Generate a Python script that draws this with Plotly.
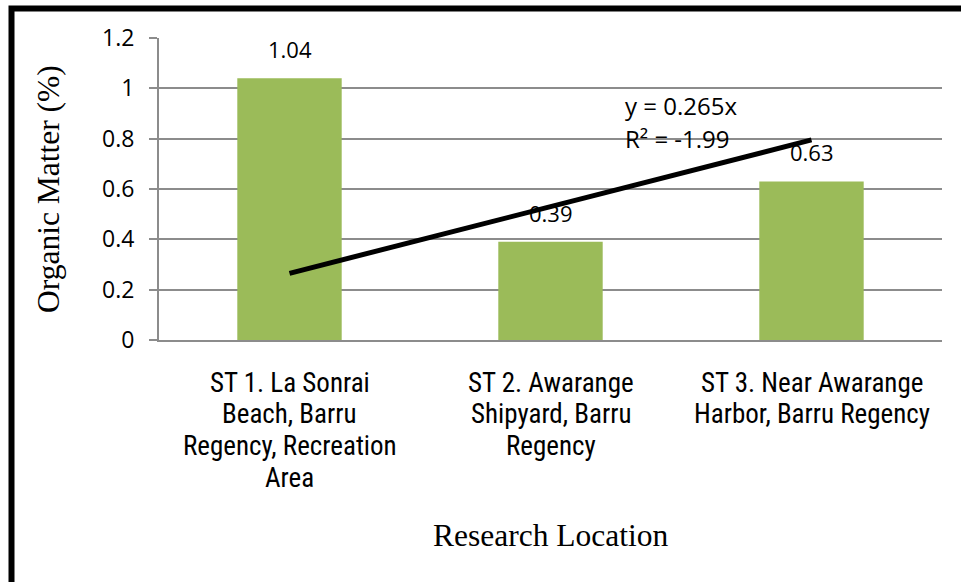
import plotly.graph_objects as go

categories = ["ST 1", "ST 2", "ST 3"]
category_label_lines = [
    ["ST 1. La Sonrai", "Beach, Barru", "Regency, Recreation", "Area"],
    ["ST 2. Awarange", "Shipyard, Barru", "Regency"],
    ["ST 3. Near Awarange", "Harbor, Barru Regency"],
]
organic_matter = [1.04, 0.39, 0.63]
value_labels = ["1.04", "0.39", "0.63"]
trend_x = [categories[0], categories[2]]
trend_y = [0.265, 0.795]
equation_lines = ["y = 0.265x", "R² = -1.99"]
y_ticks = [0, 0.2, 0.4, 0.6, 0.8, 1, 1.2]
y_tick_text = ["0", "0.2", "0.4", "0.6", "0.8", "1", "1.2"]

CAT_FONT = dict(family="Noto Sans Condensed, Roboto Condensed, Roboto, sans-serif",
                size=27, color="black")
SANS = "Open Sans, Noto Sans, sans-serif"
SERIF = "Liberation Serif, Times New Roman, serif"

fig = go.Figure()
fig.add_trace(go.Bar(
    x=categories, y=organic_matter,
    marker=dict(color="#9BBB59", line=dict(width=0)),
    width=0.4, showlegend=False, hoverinfo="skip",
))
fig.add_trace(go.Scatter(
    x=trend_x, y=trend_y, mode="lines",
    line=dict(color="black", width=5),
    showlegend=False, hoverinfo="skip",
))

annotations = []
for c, v, t in zip(categories, organic_matter, value_labels):
    annotations.append(dict(
        x=c, y=v, xref="x", yref="y", text=t, showarrow=False,
        yanchor="bottom", yshift=12,
        font=dict(family=SANS, size=22, color="black"),
    ))
# category labels, one line each (about 31.7 px line pitch as in the reference)
for c, lines in zip(categories, category_label_lines):
    for i, line in enumerate(lines):
        annotations.append(dict(
            x=c, y=0, xref="x", yref="paper", text=line, showarrow=False,
            xanchor="center", yanchor="middle", yshift=-(42.5 + 31.7 * i),
            font=CAT_FONT,
        ))
for i, line in enumerate(equation_lines):
    annotations.append(dict(
        x=0, y=0, xref="paper", yref="paper", text=line, showarrow=False,
        xanchor="left", yanchor="middle", xshift=464, yshift=235 - 33 * i,
        font=dict(family=SANS, size=24, color="black"),
    ))
annotations.append(dict(
    x=0.5, y=0, xref="paper", yref="paper",
    text="Research Location", showarrow=False,
    xanchor="center", yanchor="middle", yshift=-195,
    font=dict(family=SERIF, size=31.5, color="black"),
))
annotations.append(dict(
    x=0, y=0.5, xref="paper", yref="paper",
    text="Organic Matter (%)", showarrow=False, textangle=-90,
    xanchor="center", yanchor="middle", xshift=-111,
    font=dict(family=SERIF, size=31.5, color="black"),
))

fig.update_layout(
    width=961, height=582,
    margin=dict(l=159, r=19, t=38, b=242),
    paper_bgcolor="white", plot_bgcolor="white",
    annotations=annotations,
    shapes=[dict(
        type="rect", xref="paper", yref="paper",
        x0=(11.5 - 159) / 783, x1=2.0,
        y0=-3.0, y1=(340 - 8.5) / 302,
        line=dict(color="black", width=6), fillcolor="rgba(0,0,0,0)",
        layer="above",
    )],
)
fig.update_xaxes(
    showline=True, linecolor="#8c8c8c", linewidth=2,
    showgrid=False, ticks="", showticklabels=False,
)
fig.update_yaxes(
    range=[0, 1.2], tickvals=y_ticks, ticktext=y_tick_text,
    showline=True, linecolor="#8c8c8c", linewidth=2,
    showgrid=True, gridcolor="#8c8c8c", gridwidth=2,
    ticks="outside", ticklen=8, tickcolor="#8c8c8c", tickwidth=2,
    tickfont=dict(family=SANS, size=23, color="black"),
    ticklabelstandoff=10, zeroline=False,
)

fig.write_html("out.html", config={"displayModeBar": False},
               post_script="document.body.style.margin='0';")
